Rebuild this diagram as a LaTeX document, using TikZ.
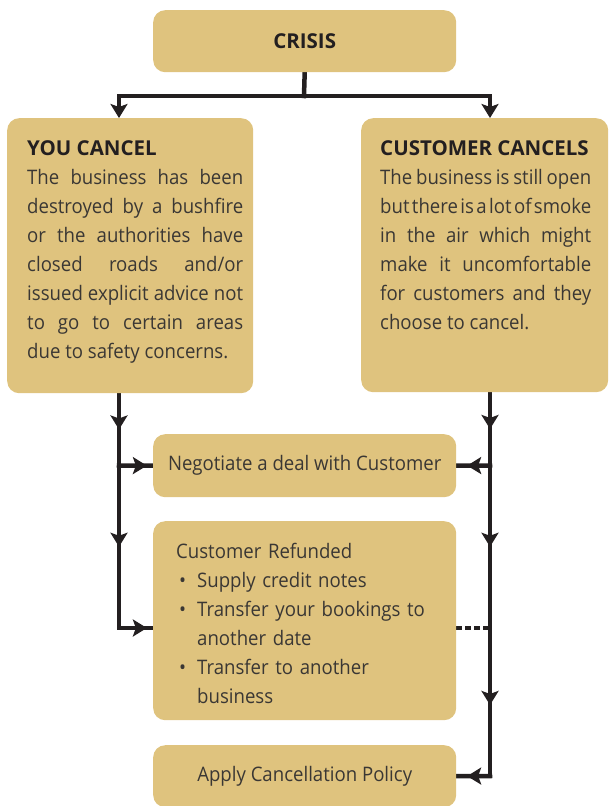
\documentclass[tikz,border=0pt]{standalone}
\usepackage{fontspec}
\setmainfont{Open Sans}[FakeStretch=0.93]
\newfontfamily\headfont{Open Sans}[FakeStretch=1.0]
\usetikzlibrary{arrows.meta,decorations.markings,positioning,backgrounds}
\definecolor{boxtan}{RGB}{223,195,126}
\definecolor{inkline}{RGB}{35,31,32}
\definecolor{inktext}{RGB}{58,55,52}
\tikzset{
  box/.style={fill=boxtan, rounded corners=12pt, inner sep=0pt, anchor=north west, text=inktext,
    font=\fontsize{20}{29}\selectfont},
  flow/.style={draw=inkline, line width=4.5pt, line cap=rect},
  tip/.style={-{Stealth[length=14pt,width=17pt,inset=3pt]}},
  midarrow/.style={postaction={decorate}, decoration={markings,
    mark=at position #1 with {\arrow{Stealth[length=14pt,width=17pt,inset=3pt]}}}},
  body/.style={text=inktext, font=\fontsize{20}{29}\selectfont, inner sep=0pt, anchor=base west},
}
\newcommand{\headtext}[1]{{\color{inkline}\headfont\fontsize{20.5}{29}\selectfont\bfseries #1}}
\newcommand{\tightline}[1]{\hbox to \linewidth{\spaceskip=0.5pt plus 20pt\relax #1}}
\begin{document}
\begin{tikzpicture}[x=1pt,y=-1pt]
\useasboundingbox (0,0) rectangle (608,806);

% boxes
\node[box, minimum width=303pt, minimum height=62pt] (crisis) at (153,10) {\headtext{CRISIS}};
\node[box, minimum width=246pt, minimum height=275pt] (you) at (7,118) {};
\node[box, minimum width=247pt, minimum height=274pt] (cust) at (361,118) {};
\node[box, minimum width=303pt, minimum height=63pt] (neg) at (153,434) {Negotiate a deal with Customer};
\node[box, minimum width=303pt, minimum height=199pt] (refund) at (153,521) {};
\node[box, minimum width=303pt, minimum height=62pt] (apply) at (153,745) {Apply Cancellation Policy};

% texts
\node[body, text width=216pt, align=justify] (youtxt) at (27,155) {\headtext{YOU CANCEL}\\
The business has been\linebreak destroyed by a bushfire\linebreak or the authorities have\linebreak
closed roads and/or\linebreak issued explicit advice not\linebreak to go to certain areas\linebreak
due to safety concerns.};
\node[body, text width=211pt, align=justify] (custtxt) at (380,155) {\headtext{CUSTOMER CANCELS}\\
The business is still open\linebreak \tightline{but there is a lot of smoke}\linebreak in the air which might\linebreak
make it uncomfortable\linebreak for customers and they\linebreak choose to cancel.};
\node[body, text width=270pt, align=left] (refundtxt) at (176,558) {Customer Refunded\\
\hspace*{3pt}\makebox[18pt][l]{\textbullet}Supply credit notes\\
\hspace*{3pt}\makebox[18pt][l]{\textbullet}Transfer your bookings to\\
\hspace*{21pt}another date\\
\hspace*{3pt}\makebox[18pt][l]{\textbullet}Transfer to another\\
\hspace*{21pt}business};

% connectors
\coordinate (top) at (304,96);
\coordinate (lt) at (119,96);
\coordinate (rt) at (490,96);
\coordinate (lneg) at (119,465.5);
\coordinate (lref) at (119,628);
\coordinate (rneg) at (490,465.5);
\coordinate (rref) at (490,628);
\coordinate (rapp) at (490,776);

\begin{scope}[on background layer]
\draw[flow] (crisis.south) -- (top);
\draw[flow] (lt) -- (rt);
\draw[flow, tip, line cap=butt] (lt) -- (lt |- you.north);
\draw[flow, tip, line cap=butt] (rt) -- (rt |- cust.north);

\draw[flow, midarrow=0.5] (lt |- you.south) -- (lneg);
\draw[flow, midarrow=0.82] (lneg) -- (neg.west);
\draw[flow, midarrow=0.5] (lneg) -- (lref);
\draw[flow, midarrow=0.82] (lref) -- (lref -| refund.west);

\draw[flow, midarrow=0.5] (rt |- cust.south) -- (rneg);
\draw[flow, midarrow=0.68] (rneg) -- (neg.east);
\draw[flow, midarrow=0.5] (rneg) -- (rref);
\draw[flow, line cap=butt, dash pattern=on 6pt off 3pt] (refund.east |- rref) -- (rref);
\draw[flow, midarrow=0.52] (rref) -- (rapp);
\draw[flow, midarrow=0.68] (rapp) -- (apply.east);
\end{scope}
\end{tikzpicture}
\end{document}
